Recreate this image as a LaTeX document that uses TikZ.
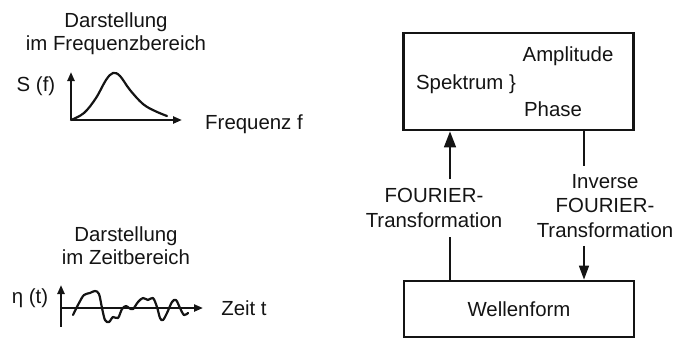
\documentclass[tikz,border=0pt]{standalone}
\usepackage{fontspec}
\setmainfont{Liberation Sans}
\usetikzlibrary{arrows.meta}
\definecolor{ink}{RGB}{20,20,20}

\begin{document}
\begin{tikzpicture}[x=0.5pt, y=-0.5pt, ink,
    txt/.style={font=\fontsize{10.2}{12.2}\selectfont, inner sep=0pt, align=center},
    blockbox/.style={draw, line width=1.4pt, minimum width=115pt},
    axis/.style={line width=1.1pt, -{Triangle[length=4.5pt,width=3.5pt]}},
    link/.style={line width=0.8pt},
    curve/.style={line width=1.1pt, line join=round, line cap=round}]

\useasboundingbox (0,0) rectangle (676,339);

% ── Frequency domain ──
\node[txt] (ftitle) at (116, 34) {Darstellung\\[-0.5pt]im Frequenzbereich};
\coordinate (fo) at (71,120);
\draw[axis] (fo) -- (71,72);
\draw[axis] (fo) -- (182,120);
\draw[curve] plot[smooth, tension=0.6] coordinates {(71,120) (84,113) (96,98) (106,80) (113,73) (120,76) (130,90) (143,104) (155,111) (167,116)};
\node[txt] (sf) at (36, 86) {S (f)};
\node[txt] (ffreq) at (254, 124) {Frequenz f};

% ── Time domain ──
\node[txt] (ttitle) at (126, 246) {Darstellung\\[-0.5pt]im Zeitbereich};
\coordinate (to) at (61,308);
\draw[line width=1.1pt] (to) -- (61,327);
\draw[axis] (to) -- (61,285);
\draw[axis] (to) -- (203,308);
\draw[curve] plot[smooth, tension=0.55] coordinates {(73,315) (79,303) (84,295) (90,293) (95,291) (99,294) (102,308) (105,320) (109,322) (113,317) (118,318) (122,309) (126,306) (129,308) (133,309) (138,302) (143,298) (148,300) (153,298) (157,307) (160,318) (163,320) (167,313) (172,302) (176,300) (180,308) (184,315) (188,313)};
\node[txt] (eta) at (30, 298) {η (t)};
\node[txt] (tzeit) at (244, 308) {Zeit t};

% ── Blocks ──
\node[blockbox, minimum height=48.5pt] (spek) at (518.5, 81.5) {};
\node[txt] (amp) at (568, 56) {Amplitude};
\node[txt] (spk) at (466, 84) {Spektrum \}};
\node[txt] (pha) at (553, 109) {Phase};

\node[blockbox, minimum height=28pt] (wave) at (519, 309) {\fontsize{10.2}{12.2}\selectfont Wellenform};

% ── Transformations ──
\coordinate (ftx) at (450,0);
\coordinate (iftx) at (584,0);
\node[txt, inner sep=4.5pt] (ft) at (434, 208) {FOURIER-\\Transformation};
\node[txt, inner sep=4pt] (ift) at (605, 206) {Inverse\\FOURIER-\\Transformation};

\draw[link] (wave.north -| ftx) -- (ft.south -| ftx);
\draw[link, -{Triangle[length=8pt,width=6pt]}] (ft.north -| ftx) -- (spek.south -| ftx);
\draw[link] (spek.south -| iftx) -- (ift.north -| iftx);
\draw[link, -{Triangle[length=7pt,width=5pt]}] (ift.south -| iftx) -- (wave.north -| iftx);

\end{tikzpicture}
\end{document}
